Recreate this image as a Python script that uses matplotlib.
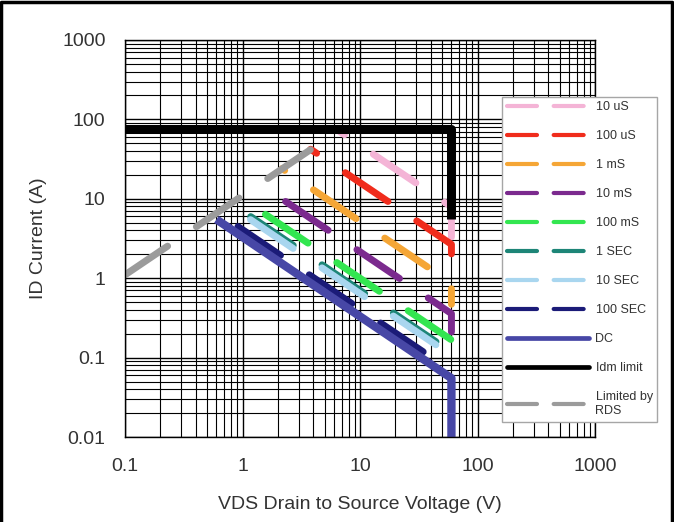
import matplotlib
matplotlib.use('Agg')
import matplotlib.pyplot as plt
from matplotlib.lines import Line2D

plt.rcParams['font.family'] = ['Liberation Sans', 'DejaVu Sans']

# SOA data (V, A)
v_10us = [6.3, 60, 60]
i_10us = [75, 7.92, 3.3]
v_100us = [3.8, 60, 60]
i_100us = [42.1, 2.67, 1.6]
v_1ms = [2.17, 60, 60]
i_1ms = [24.0, 0.867, 0.47]
v_10ms = [1.4, 60, 60]
i_10ms = [15.4, 0.358, 0.21]
v_100ms = [0.95, 60, 60]
i_100ms = [10.5, 0.167, 0.125]
v_1s = [0.8, 60]
i_1s = [8.75, 0.117]
v_10s = [0.76, 60]
i_10s = [8.4, 0.107]
v_100s = [0.61, 60]
i_100s = [6.7, 0.068]
v_dc = [0.6, 60, 60]
i_dc = [5.5, 0.055, 0.01]
v_idm = [0.1, 60, 60]
i_idm = [75, 75, 5.6]
v_rds = [0.1, 6.2]
i_rds = [1.1, 68]

labels = ['10 uS', '100 uS', '1 mS', '10 mS', '100 mS', '1 SEC', '10 SEC',
          '100 SEC', 'DC', 'Idm limit', 'Limited by\nRDS']
colors = ['#f4b4d6', '#f02c1c', '#f5a636', '#7b2a8e', '#33e650', '#1d8577',
          '#a9d6ef', '#1b1b78', '#4747a6', '#000000', '#9b9b9b']

series = [(v_10us, i_10us), (v_100us, i_100us), (v_1ms, i_1ms), (v_10ms, i_10ms),
          (v_100ms, i_100ms), (v_1s, i_1s), (v_10s, i_10s), (v_100s, i_100s),
          (v_dc, i_dc), (v_idm, i_idm), (v_rds, i_rds)]
# dash phase of each dashed series (in line widths), None = solid
offsets = [6.0, 6.36, 6.94, 7.89, 7.96, 9.0, 8.57, 8.81, None, None, 0.0]

fig = plt.figure(figsize=(6.74, 5.22), dpi=100)
ax = fig.add_axes([125/674, 1-437/522, 470/674, 397/522])

for (v, i), c, off in zip(series, colors, offsets):
    if off is None:
        lw = 6.5 if c == '#000000' else 6.0
        ax.plot(v, i, color=c, lw=lw, solid_capstyle='butt', solid_joinstyle='round')
    else:
        ax.plot(v, i, color=c, lw=5.0, linestyle=(off, (7.4, 5.0)),
                dash_capstyle='round', dash_joinstyle='round')

ax.set_xscale('log')
ax.set_yscale('log')
ax.set_xlim(0.1, 1000)
ax.set_ylim(0.01, 1000)
ax.set_xticks([0.1, 1, 10, 100, 1000])
ax.set_xticklabels(['0.1', '1', '10', '100', '1000'])
ax.set_yticks([0.01, 0.1, 1, 10, 100, 1000])
ax.set_yticklabels(['0.01', '0.1', '1', '10', '100', '1000'])
ax.grid(True, which='major', color='black', lw=1.0)
ax.grid(True, which='minor', color='black', lw=0.8)
ax.set_axisbelow(True)
ax.tick_params(which='both', length=0, labelsize=14, colors='#333333')
ax.tick_params(axis='x', pad=15)
ax.tick_params(axis='y', pad=14)
for s in ax.spines.values():
    s.set_color('black')
    s.set_linewidth(1.0)

ax.set_xlabel('VDS Drain to Source Voltage (V)', fontsize=14, color='#333333', labelpad=15)
ax.set_ylabel('ID Current (A)', fontsize=14, color='#333333', labelpad=11)

# legend with thinner proxy lines
handles = []
for c, off in zip(colors, offsets):
    if off is None:
        handles.append(Line2D([], [], color=c, lw=3.4, solid_capstyle='round'))
    else:
        handles.append(Line2D([], [], color=c, lw=3, linestyle=(0, (7.2, 4.0)),
                              dash_capstyle='round'))
leg = ax.legend(handles, labels, loc='upper right', bbox_to_anchor=(657/674, 1-97/522),
                bbox_transform=fig.transFigure, borderaxespad=0, fontsize=9,
                handlelength=6.6, handletextpad=0.5, labelspacing=1.36,
                borderpad=0.35, fancybox=False, framealpha=1)
leg.get_frame().set_edgecolor('#a6a6a6')
leg.get_frame().set_linewidth(1.0)
for t in leg.get_texts():
    t.set_color('#333333')

# outer border of the picture (left, top, right)
fig.add_artist(Line2D([0.002, 0.002, 0.997, 0.997], [0, 0.997, 0.997, 0],
                      transform=fig.transFigure, color='black', lw=2.5))

plt.savefig('out.png', dpi=100)
